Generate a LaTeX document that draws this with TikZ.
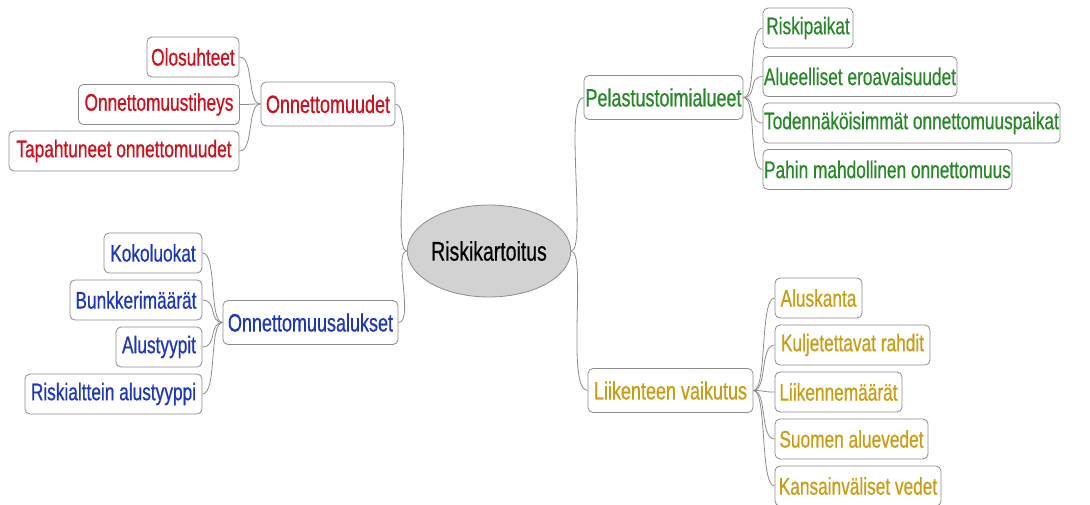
\documentclass[tikz,border=0pt]{standalone}
\usepackage{fontspec}
\usetikzlibrary{shapes.geometric}
\setmainfont{Liberation Sans}[FakeStretch=0.72,FakeBold=0.6]
\definecolor{cred}{RGB}{205,15,30}
\definecolor{cblue}{RGB}{30,55,185}
\definecolor{cgreen}{RGB}{40,135,40}
\definecolor{cgold}{RGB}{200,158,20}
\definecolor{edge}{RGB}{140,140,140}
\definecolor{ellfill}{RGB}{210,210,210}
\tikzset{
  box/.style={draw=edge, rounded corners=5pt, fill=white, inner sep=0pt, line width=0.8pt},
  kid/.style={box, minimum height=40pt, font=\fontsize{24}{27}\selectfont},
  par/.style={box, minimum height=44pt, font=\fontsize{25}{28}\selectfont},
  conn/.style={draw=edge, line width=0.8pt},
}
\begin{document}
\begin{tikzpicture}[x=1pt,y=-1pt]
\useasboundingbox (0,0) rectangle (1090,504);
% centre
\node[ellipse, draw=edge, fill=ellfill, line width=0.8pt, minimum width=135pt, minimum height=92pt, inner sep=0pt, font=\fontsize{27}{30}\selectfont] (c) at (489,251) {Riskikartoitus};
% red
\node[par, text=cred, minimum width=134pt] (on) at (328,104) {Onnettomuudet};
\node[kid, text=cred, minimum width=92pt] (olo) at (193,57) {Olosuhteet};
\node[kid, text=cred, minimum width=161pt] (tih) at (159,104.5) {Onnettomuustiheys};
\node[kid, text=cred, minimum width=230pt] (tap) at (124,151) {Tapahtuneet onnettomuudet};
% blue
\node[par, text=cblue, minimum width=175pt] (oa) at (310.5,322.5) {Onnettomuusalukset};
\node[kid, text=cblue, minimum width=98pt] (koko) at (153,253) {Kokoluokat};
\node[kid, text=cblue, minimum width=132pt] (bunk) at (136,300) {Bunkkerimäärät};
\node[kid, text=cblue, minimum width=86pt] (alus) at (159,347) {Alustyypit};
\node[kid, text=cblue, minimum width=177pt] (rsk) at (113.5,394) {Riskialttein alustyyppi};
% green
\node[par, text=cgreen, minimum width=159pt] (pel) at (663.5,97.5) {Pelastustoimialueet};
\node[kid, text=cgreen, minimum width=90pt] (rp) at (808,28) {Riskipaikat};
\node[kid, text=cgreen, minimum width=194pt] (ae) at (860,76.5) {Alueelliset eroavaisuudet};
\node[kid, text=cgreen, minimum width=297pt] (tod) at (911.5,123) {Todennäköisimmät onnettomuuspaikat};
\node[kid, text=cgreen, minimum width=249pt] (pah) at (887.5,169.5) {Pahin mahdollinen onnettomuus};
% gold
\node[par, text=cgold, minimum width=165pt] (lv) at (670.5,390.5) {Liikenteen vaikutus};
\node[kid, text=cgold, minimum width=87pt] (ak) at (818.5,298) {Aluskanta};
\node[kid, text=cgold, minimum width=155pt] (kr) at (852.5,345) {Kuljetettavat rahdit};
\node[kid, text=cgold, minimum width=127pt] (lm) at (838.5,392) {Liikennemäärät};
\node[kid, text=cgold, minimum width=153pt] (sa) at (851.5,439) {Suomen aluevedet};
\node[kid, text=cgold, minimum width=166pt] (kv) at (858,486) {Kansainväliset vedet};
% connectors: centre
\draw[conn] (on.east) .. controls +(20,0) and +(-16,0) .. (c.west);
\draw[conn] (oa.east) .. controls +(16,0) and +(-14,0) .. (c.west);
\draw[conn] (c.east) .. controls +(16,0) and +(-20,0) .. (pel.west);
\draw[conn] (c.east) .. controls +(16,0) and +(-22,0) .. (lv.west);
% red children
\foreach \k in {olo,tih,tap} \draw[conn] (\k.east) .. controls +(15,0) and +(-14,0) .. (on.west);
% blue children
\foreach \k in {koko,bunk,alus,rsk} \draw[conn] (\k.east) .. controls +(15,0) and +(-14,0) .. (oa.west);
% green children
\foreach \k in {rp,ae,tod,pah} \draw[conn] (pel.east) .. controls +(14,0) and +(-15,0) .. (\k.west);
% gold children
\foreach \k in {ak,kr,lm,sa,kv} \draw[conn] (lv.east) .. controls +(14,0) and +(-15,0) .. (\k.west);
\end{tikzpicture}
\end{document}
